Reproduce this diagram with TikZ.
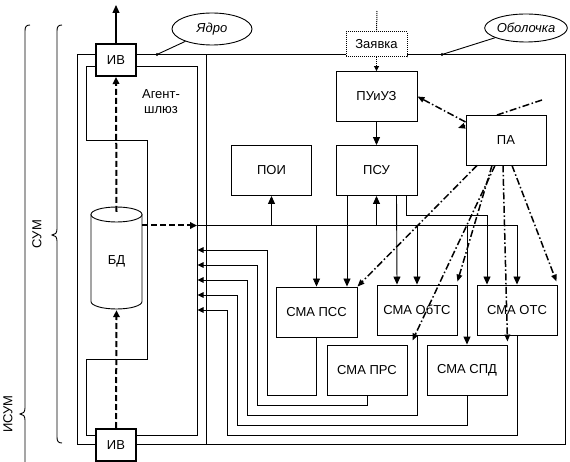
\documentclass[tikz,border=0pt]{standalone}
\usepackage{fontspec}
\setmainfont{Liberation Sans}
\usetikzlibrary{arrows.meta,shapes.geometric}
\newcommand\myfs{\fontsize{13}{15}\selectfont}
\begin{document}
\begin{tikzpicture}[x=1pt,y=-1pt,
  ln/.style={line width=0.9pt},
  box/.style={draw, line width=0.9pt, fill=white, minimum width=80pt, minimum height=50pt, inner sep=0pt, font=\myfs},
  ar/.style={ln, -{Triangle[length=8pt,width=7pt]}},
  arsm/.style={ln, -{Triangle[length=6pt,width=5.5pt]}},
  dd/.style={line width=1.5pt, dash pattern=on 7pt off 2.5pt on 1.5pt off 2.5pt, -{Triangle[length=7pt,width=5.5pt]}},
  thd/.style={line width=2pt, dash pattern=on 6pt off 3pt, -{Triangle[length=7pt,width=6.5pt]}},
  bubble/.style={draw, ellipse, line width=0.9pt, fill=white, inner sep=0pt, font=\myfs\itshape}]
\useasboundingbox (0,0) rectangle (570,462);
% outer frame and divider
\draw[ln] (77,54.5) rectangle (565,444.5);
\draw[ln] (206.5,54.5) -- (206.5,444.5);
% agent-gateway outline
\draw[ln] (86,66) -- (197,66) -- (197,435) -- (86,435) -- (86,359) -- (147,359) -- (147,140) -- (86,140) -- cycle;
\node[font=\myfs, align=center] (agent) at (161,102) {Агент-\\шлюз};
% braces
\draw[ln] (62,25) .. controls (58,25) and (57,27) .. (57,31) -- (57,229) .. controls (57,233) and (55,235) .. (52,235) .. controls (55,235) and (57,237) .. (57,241) -- (57,437) .. controls (57,441) and (58,443) .. (62,443);
\draw[ln] (30,25) .. controls (26,25) and (25,27) .. (25,31) -- (25,408) .. controls (25,412) and (23,414) .. (20,414) .. controls (23,414) and (25,416) .. (25,420) -- (25,462);
\node[font=\myfs, rotate=90] (sum) at (37,234) {СУМ};
\node[font=\myfs, rotate=90] (isum) at (8,414) {ИСУМ};
% cylinder
\draw[ln, fill=white] (91,214.5) -- (91,301.5) arc[start angle=180, end angle=360, x radius=25.5pt, y radius=7.5pt] -- (142,214.5) -- cycle;
\draw[ln, fill=white] (116.5,214.5) ellipse [x radius=25.5pt, y radius=7.5pt];
\node[minimum width=51pt, minimum height=98pt, inner sep=0pt, font=\myfs] (bd) at (116.5,261) {БД};
% boxes
\node[box] (poi) at (271.5,170.5) {ПОИ};
\node[box, minimum width=81pt] (pu) at (376.5,96.5) {ПУиУЗ};
\node[box, minimum width=81pt] (psu) at (376.5,170.5) {ПСУ};
\node[box, minimum width=81pt] (pss) at (316.5,312) {СМА ПСС};
\node[box] (obts) at (417,310) {СМА ОбТС};
\node[box] (ots) at (517,310) {СМА ОТС};
\node[box] (prs) at (367,370) {СМА ПРС};
\node[box] (spd) at (467,370) {СМА СПД};
% coordinates
\coordinate (busL) at (197,225.5);
\coordinate (busR) at (517,225.5);
\coordinate (j1) at (487,215);
\coordinate (r1) at (197.5,250);
\coordinate (r2) at (197.5,265);
\coordinate (r3) at (197.5,280);
\coordinate (r4) at (197.5,295);
\coordinate (r5) at (197.5,310);
% bus
\draw[ar] (busL) -- (busR) -- (ots.north);
\draw[ar] (poi.south |- busL) -- (poi.south);
\draw[ar] (pss.north |- busL) -- (pss.north);
\draw[ar] (psu.south |- busL) -- (psu.south);
\draw[ar] (obts.north |- busL) -- (obts.north);
\draw[ar] (spd.north |- busL) -- (spd.north);
% from PSU
\draw[ar] ([xshift=-29.5pt]psu.south) -- ([xshift=30.5pt]pss.north);
\draw[ar] ([xshift=20pt]psu.south) -- ([xshift=-20pt]obts.north);
\draw[ar] ([xshift=30pt]psu.south) |- (j1) -- (j1 |- ots.north);
\draw[ar] (pu.south) -- (psu.north);
% return lines
\draw[arsm] (pss.south) |- (267,395) |- (r1);
\draw[arsm] (prs.south) |- (257,405) |- (r2);
\draw[arsm] (obts.south) |- (247,415) |- (r3);
\draw[arsm] (spd.south) |- (237,425) |- (r4);
\draw[arsm] (ots.south) |- (227,435) |- (r5);
% external line behind PA
\coordinate (exA) at (542,100);
\coordinate (exB) at (458,128);
\draw[dd] (exA) -- (exB);
\node[box] (pa) at (506,140) {ПА};
% request
\node[draw, densely dotted, line width=1pt, fill=white, minimum width=61pt, minimum height=25pt, inner sep=0pt, font=\myfs] (zay) at (376.5,44.5) {Заявка};
\coordinate (zin) at (377,11);
\draw[densely dotted, line width=1pt] (zin) -- (zay.north);
\draw[densely dotted, line width=1pt, -{Triangle[length=5pt,width=5pt]}] (zay.south) -- (pu.north);
% IV boxes
\node[box, line width=2pt, minimum width=40pt, minimum height=32pt] (ivt) at (116,60) {ИВ};
\node[box, line width=2pt, minimum width=40pt, minimum height=32pt] (ivb) at (116,445) {ИВ};
\coordinate (out) at (116,5);
\draw[ar, line width=1.1pt] (ivt.north) -- (out);
\draw[thd] (bd.north) -- (ivt.south);
\draw[thd] (ivb.north) -- (bd.south);
\draw[thd] (bd.east |- busL) -- (busL);
% dash-dot arrows from PA
\draw[dd] ([xshift=-29pt]pa.south) -- (pss.north east);
\draw[dd] ([xshift=-14pt]pa.south) -- ([yshift=3pt]obts.north east);
\draw[dd] ([xshift=-11pt]pa.south) -- ([shift={(5pt,4pt)}]prs.north east);
\draw[dd] ([xshift=-3pt]pa.south) -- ([yshift=3pt]spd.north east);
\draw[dd] ([xshift=6pt]pa.south) -- ([shift={(-1pt,3pt)}]ots.north east);
\draw[dd] ([yshift=18pt]pa.west) -- (pu.east);
% callouts
\node[bubble, minimum width=80pt, minimum height=32pt] (yadro) at (212,29) {Ядро};
\node[bubble, minimum width=78pt, minimum height=28pt] (obol) at (526,28) {Оболочка};
\coordinate (dA) at (157,54.5);
\coordinate (dB) at (442,54.5);
\fill (dA) circle (1.6pt);
\fill (dB) circle (1.6pt);
\draw[ln] (yadro) -- (dA);
\draw[ln] (obol) -- (dB);
\end{tikzpicture}
\end{document}
